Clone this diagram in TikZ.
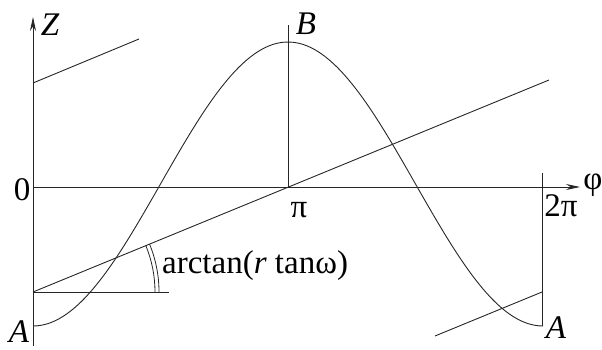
\documentclass[tikz,border=0pt]{standalone}
\usepackage{fontspec}
\setmainfont{Liberation Serif}
\usetikzlibrary{arrows.meta}
\begin{document}
\begin{tikzpicture}[x=1pt,y=-1pt,
  thin line/.style={line width=0.9pt,draw=black!85},
  axis line/.style={line width=0.9pt,draw=black!85,-{Stealth[length=14pt,width=6pt]}},
  lbl/.style={inner sep=0pt,font=\fontsize{33}{38}\selectfont},
]
\useasboundingbox (0,0) rectangle (602,350);
% key points
\coordinate (O) at (33,187);
\coordinate (Zbot) at (33,346);
\coordinate (Ztop) at (33,17);
\coordinate (Xend) at (580,187);
\coordinate (P) at (288,187);
\coordinate (Ptop) at (288,25);
\coordinate (Q) at (542,187);
\coordinate (Qtop) at (542,173);
\coordinate (Qbot) at (542,326);
\coordinate (L0) at (33,292);
\coordinate (L1) at (549,80);
\coordinate (H1) at (169,292);
\coordinate (U0) at (33,83);
\coordinate (U1) at (139,39);
\coordinate (R0) at (435,336);
\coordinate (R1) at (542,292);
% axes
\draw[axis line] (Zbot) -- (Ztop);
\draw[axis line] (O) -- (Xend);
% verticals
\draw[thin line] (P) -- (Ptop);
\draw[thin line] (Qtop) -- (Qbot);
% sloped lines
\draw[thin line] (L0) -- (L1);
\draw[thin line] (L0) -- (H1);
\draw[thin line] (U0) -- (U1);
\draw[thin line] (R0) -- (R1);
% angle double arc
\draw[thin line,line width=0.8pt] (L0) ++(0:122) arc[start angle=0,end angle=-22.4,radius=122];
\draw[thin line,line width=0.8pt] (L0) ++(0:126) arc[start angle=0,end angle=-22.4,radius=126];
% curve
\draw[thin line] plot[domain=0:360,samples=120,smooth] ({33+1.416667*\x},{184+142*cos(\x)});
% labels
\node[lbl] (zl) at (50,25) {\itshape Z};
\node[lbl] (bl) at (306,24) {\itshape B};
\node[lbl] (phil) at (593,185) {φ};
\node[lbl] (zero) at (22,190) {0};
\node[lbl] (pil) at (299,210) {π};
\node[lbl] (twopi) at (561,206) {2π};
\node[lbl] (al) at (19,332) {\itshape A};
\node[lbl] (ar) at (556,328) {\itshape A};
\node[lbl,anchor=base west] (arct) at (162,273) {arctan(\textit{r} tanω)};
\end{tikzpicture}
\end{document}
